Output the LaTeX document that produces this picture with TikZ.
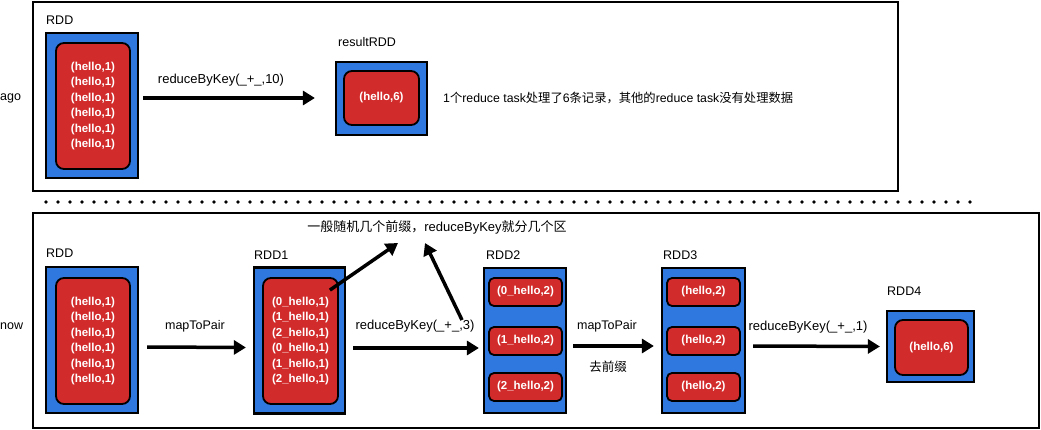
\documentclass[tikz,border=0pt]{standalone}
\usepackage{fontspec}
\setmainfont{Liberation Sans}
\newfontfamily\cjk{Noto Sans CJK SC}
\usetikzlibrary{arrows.meta,calc}
\definecolor{rddblue}{RGB}{46,120,224}
\definecolor{rddred}{RGB}{210,43,43}
\begin{document}
\begin{tikzpicture}[x=1pt,y=-1pt,
  frame/.style={draw=black,line width=2pt},
  bluebox/.style={draw=black,line width=2.2pt,fill=rddblue,inner sep=0pt},
  redbox/.style={draw=black,line width=1.8pt,fill=rddred,rounded corners=8pt,inner sep=0pt,
    text=white,font=\bfseries\fontsize{11.5}{15.4}\selectfont,align=center},
  smallred/.style={redbox,rounded corners=5pt,minimum width=73pt,minimum height=28pt},
  lbl/.style={font=\fontsize{12.5}{14}\selectfont,inner sep=0pt},
  biglbl/.style={font=\fontsize{13}{15}\selectfont,inner sep=0pt},
  arr/.style={line width=3.5pt,-{Triangle[length=12pt,width=14pt]}}]
\useasboundingbox (0,0) rectangle (1041,430);

% frames
\draw[frame] (33,2) rectangle (898,191);
\draw[frame] (33,213) rectangle (1039,428);
\foreach \x in {46,58,...,970} \fill (\x,202) circle (1.8);

\node[lbl,anchor=west] (ago) at (0,98) {ago};
\node[lbl,anchor=west] (now) at (0,326) {now};

% ---- top part
\node[lbl,anchor=west] (tAl) at (46,20) {RDD};
\node[bluebox,minimum width=92pt,minimum height=145pt] (tA) at (92,105.5) {};
\node[redbox,minimum width=74pt,minimum height=126pt] (tAr) at (93,106)
  {(hello,1)\\(hello,1)\\(hello,1)\\(hello,1)\\(hello,1)\\(hello,1)};

\node[lbl,anchor=west] (rAl) at (338,42) {resultRDD};
\node[bluebox,minimum width=91pt,minimum height=73pt] (rA) at (381.5,98.5) {};
\node[redbox,minimum width=75pt,minimum height=54pt] (rAr) at (381.5,98) {(hello,6)};

\node[biglbl] (tlab) at (221,80) {reduceByKey(\_+\_,10)};
\draw[arr] ([xshift=4pt,yshift=7.5pt]tA.east) -- ([xshift=-20pt,yshift=0.5pt]rA.west);

\node[font=\fontsize{12.3}{14}\selectfont,inner sep=0pt,anchor=west] (desc) at (443,98) {1{\cjk 个}reduce task{\cjk 处理了}6{\cjk 条记录，其他的}reduce task{\cjk 没有处理数据}};

% ---- bottom part
\node[lbl,anchor=west] (b0l) at (46,253) {RDD};
\node[bluebox,minimum width=92pt,minimum height=146pt] (b0) at (92,340) {};
\node[redbox,minimum width=74pt,minimum height=126pt] (b0r) at (93,341)
  {(hello,1)\\(hello,1)\\(hello,1)\\(hello,1)\\(hello,1)\\(hello,1)};

\node[lbl,anchor=west] (b1l) at (254,255) {RDD1};
\node[bluebox,minimum width=91pt,minimum height=146pt] (b1) at (299.5,340.5) {};
\node[redbox,minimum width=75pt,minimum height=126pt] (b1r) at (300.5,341)
  {(0\_hello,1)\\(1\_hello,1)\\(2\_hello,1)\\(0\_hello,1)\\(1\_hello,1)\\(2\_hello,1)};

\node[lbl,anchor=west] (b2l) at (486,255) {RDD2};
\node[bluebox,minimum width=82pt,minimum height=145pt] (b2) at (525,340.5) {};
\node[smallred] (b2a) at (525.5,292) {(0\_hello,2)};
\node[smallred] (b2b) at (525.5,341) {(1\_hello,2)};
\node[smallred] (b2c) at (525.5,387) {(2\_hello,2)};

\node[lbl,anchor=west] (b3l) at (663,255) {RDD3};
\node[bluebox,minimum width=83pt,minimum height=145pt] (b3) at (703.5,340.5) {};
\node[smallred] (b3a) at (703.5,292) {(hello,2)};
\node[smallred] (b3b) at (703.5,341) {(hello,2)};
\node[smallred] (b3c) at (703.5,387) {(hello,2)};

\node[lbl,anchor=west] (b4l) at (887,291) {RDD4};
\node[bluebox,minimum width=87pt,minimum height=71pt] (b4) at (930.5,346.5) {};
\node[redbox,minimum width=73pt,minimum height=55pt] (b4r) at (931.5,347.5) {(hello,6)};

% labels of arrows
\node[lbl] (l1) at (195,326) {mapToPair};
\node[biglbl] (l2) at (415,326) {reduceByKey(\_+\_,3)};
\node[lbl] (l3) at (607,326) {mapToPair};
\node[lbl] (l3b) at (608,367) {\cjk 去前缀};
\node[biglbl] (l4) at (808,327) {reduceByKey(\_+\_,1)};
\node[biglbl] (note) at (437,227) {{\cjk 一般随机几个前缀，}reduceByKey{\cjk 就分几个区}};

% arrows
\draw[arr] ([xshift=8pt,yshift=-7pt]b0.east) -- ([xshift=-7pt,yshift=-7pt]b1.west);
\draw[arr] ([xshift=7pt,yshift=-7.5pt]b1.east) -- ([xshift=-4pt,yshift=-7.5pt]b2.west);
\draw[arr] ([xshift=6pt,yshift=-5.5pt]b2.east) -- ([xshift=-7pt,yshift=-5.5pt]b3.west);
\draw[arr] ([xshift=7pt,yshift=-5.5pt]b3.east) -- ([xshift=-6pt]b4.west);
\draw[arr] ([xshift=-9pt,yshift=-13pt]b1r.north east) -- ([xshift=-39pt,yshift=-16pt]note.center);
\draw[arr] ([xshift=47pt,yshift=6pt]l2.center) -- ([xshift=-12pt,yshift=-16pt]note.center);
\end{tikzpicture}
\end{document}
